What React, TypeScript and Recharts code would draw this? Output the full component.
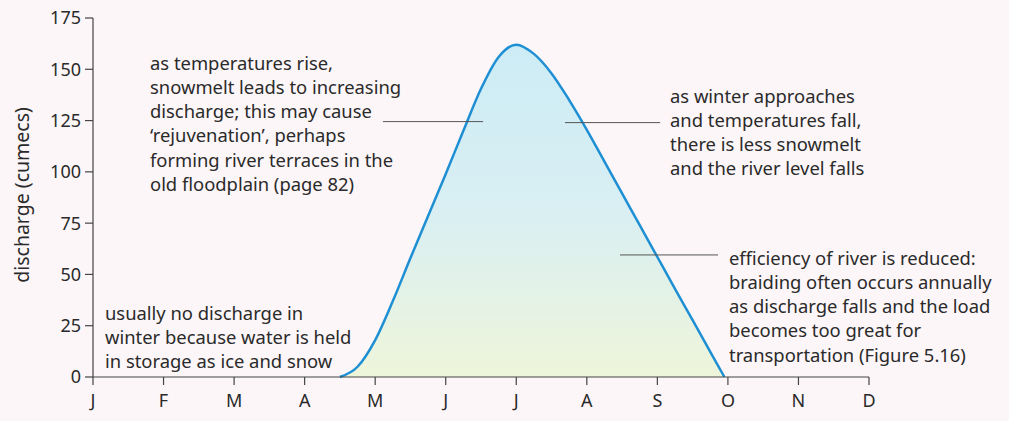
import {
  ComposedChart,
  Area,
  XAxis,
  YAxis,
  ReferenceLine,
  Customized,
} from 'recharts'

const months = ['J', 'F', 'M', 'A', 'M', 'J', 'J', 'A', 'S', 'O', 'N', 'D']
const monthTicks = [0, 1, 2, 3, 4, 5, 6, 7, 8, 9, 10, 11]
const dischargeTicks = [0, 25, 50, 75, 100, 125, 150, 175]

// month position (0 = J) and discharge in cumecs
const monthPos = [
  3.5, 3.75, 4.0, 4.25, 4.5, 4.75, 5.0, 5.25, 5.5, 5.75, 6.0, 6.25,
  6.5, 6.75, 7.0, 7.25, 7.5, 7.75, 8.0, 8.25, 8.5, 8.75, 8.95,
]
const discharge = [
  0, 5, 18, 37, 58, 78.5, 99, 120, 140.5, 156, 162, 157.5,
  148, 135, 120.5, 105, 89.5, 74, 58.5, 43, 27.7, 12.3, 0,
]

const notes = [
  {
    x: 150,
    y: 62,
    lines: [
      'as temperatures rise,',
      'snowmelt leads to increasing',
      'discharge; this may cause',
      '\u2018rejuvenation\u2019, perhaps',
      'forming river terraces in the',
      'old floodplain (page 82)',
    ],
  },
  {
    x: 670,
    y: 95,
    lines: [
      'as winter approaches',
      'and temperatures fall,',
      'there is less snowmelt',
      'and the river level falls',
    ],
  },
  {
    x: 729,
    y: 257,
    lines: [
      'efficiency of river is reduced:',
      'braiding often occurs annually',
      'as discharge falls and the load',
      'becomes too great for',
      'transportation (Figure 5.16)',
    ],
  },
  {
    x: 105,
    y: 312,
    lines: [
      'usually no discharge in',
      'winter because water is held',
      'in storage as ice and snow',
    ],
  },
]

// leader lines: [x1, x2, y]
const leaders = [
  [4.11, 5.53, 124.5],
  [6.69, 8.04, 124],
  [7.47, 8.86, 59.5],
]

const data = monthPos.map((m, i) => ({ month: m, discharge: discharge[i] }))

const font = '"Noto Sans", sans-serif'
const ink = '#2a2a2a'

function Notes() {
  return (
    <g>
      <text
        x={21}
        y={195}
        transform="rotate(-90 21 195)"
        textAnchor="middle"
        dominantBaseline="central"
        fontFamily={font}
        fontSize={19.5}
        fill={ink}
      >
        discharge (cumecs)
      </text>
      {notes.map((n, i) =>
        n.lines.map((line, j) => (
          <text
            key={`${i}-${j}`}
            x={n.x}
            y={n.y + j * 24.3}
            dominantBaseline="central"
            fontFamily={font}
            fontSize={18.4}
            fill={ink}
          >
            {line}
          </text>
        ))
      )}
    </g>
  )
}

export default function App() {
  return (
    <div
      style={{
        position: 'absolute',
        left: 0,
        top: 0,
        width: 1009,
        height: 421,
        background: '#fcf6f8',
      }}
    >
      <ComposedChart
        width={1009}
        height={421}
        data={data}
        margin={{ top: 18, right: 140, bottom: 0, left: 0 }}
      >
        <defs>
          <linearGradient id="melt" x1="0" y1="0" x2="0" y2="1">
            <stop offset="0%" stopColor="#cdecf5" />
            <stop offset="50%" stopColor="#d9eff3" />
            <stop offset="100%" stopColor="#eef5da" />
          </linearGradient>
        </defs>
        <XAxis
          type="number"
          dataKey="month"
          domain={[0, 11]}
          ticks={monthTicks}
          tickFormatter={(v) => months[v]}
          interval={0}
          height={44}
          tickSize={8}
          tickMargin={9}
          stroke="#444"
          strokeWidth={1.2}
          tick={{ fill: ink, fontSize: 18, fontFamily: font }}
        />
        <YAxis
          type="number"
          domain={[0, 175]}
          ticks={dischargeTicks}
          width={93}
          tickSize={8}
          tickMargin={4}
          stroke="#444"
          strokeWidth={1.2}
          tick={{ fill: ink, fontSize: 18, fontFamily: font }}
        />
        <Area
          type="monotone"
          dataKey="discharge"
          stroke="#1f8fd4"
          strokeWidth={2.5}
          fill="url(#melt)"
          fillOpacity={1}
          isAnimationActive={false}
          dot={false}
          activeDot={false}
        />
        {leaders.map(([x1, x2, y], i) => (
          <ReferenceLine
            key={i}
            segment={[
              { x: x1, y },
              { x: x2, y },
            ]}
            stroke="#555"
            strokeWidth={1}
          />
        ))}
        <Customized component={Notes} />
      </ComposedChart>
    </div>
  )
}
